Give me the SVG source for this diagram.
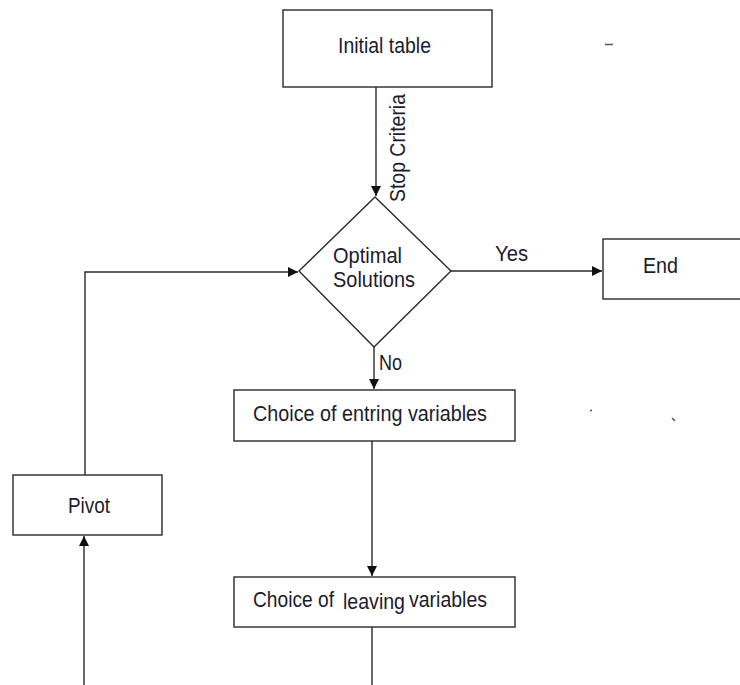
<svg xmlns="http://www.w3.org/2000/svg" width="740" height="685" viewBox="0 0 740 685">
<style>
  .box{fill:#fff;stroke:#2a2a2a;stroke-width:1.4}
  .ln{fill:none;stroke:#2a2a2a;stroke-width:1.4}
  .t{font-family:"Liberation Sans",Arial,sans-serif;font-size:21.5px;fill:#1c1c2c}
  .mk{stroke:#555;stroke-width:1.5}
</style>
<defs>
  <marker id="ah" viewBox="0 0 10 10" refX="10" refY="5" markerWidth="10" markerHeight="10" markerUnits="userSpaceOnUse" orient="auto">
    <path d="M0,0 L10,5 L0,10 z" fill="#111"/>
  </marker>
</defs>
<rect width="740" height="685" fill="#fff"/>

<g id="connectors">
  <path class="ln" d="M376,87 V196" marker-end="url(#ah)"/>
  <path class="ln" d="M451,271 H602" marker-end="url(#ah)"/>
  <path class="ln" d="M374,347 V389" marker-end="url(#ah)"/>
  <path class="ln" d="M372,441 V576" marker-end="url(#ah)"/>
  <path class="ln" d="M372,627 V686"/>
  <path class="ln" d="M84,686 V536" marker-end="url(#ah)"/>
  <path class="ln" d="M85,475 V272 H298" marker-end="url(#ah)"/>
  <text class="t" transform="translate(405,202) rotate(-90)" textLength="108" lengthAdjust="spacingAndGlyphs">Stop Criteria</text>
  <text class="t" x="495" y="261" textLength="33" lengthAdjust="spacingAndGlyphs">Yes</text>
  <text class="t" x="379" y="370" textLength="23" lengthAdjust="spacingAndGlyphs">No</text>
</g>

<g id="initial-table">
  <rect class="box" x="283" y="10" width="209" height="77"/>
  <text class="t" x="338" y="53" textLength="93" lengthAdjust="spacingAndGlyphs">Initial table</text>
</g>

<g id="optimal-solutions">
  <polygon class="box" points="375,197 451,271 374,347 299,271"/>
  <text class="t" x="333" y="263" textLength="69" lengthAdjust="spacingAndGlyphs">Optimal</text>
  <text class="t" x="333" y="287" textLength="82" lengthAdjust="spacingAndGlyphs">Solutions</text>
</g>

<g id="end">
  <rect class="box" x="603" y="239" width="145" height="60"/>
  <text class="t" x="643" y="273" textLength="35" lengthAdjust="spacingAndGlyphs">End</text>
</g>

<g id="choice-entering">
  <rect class="box" x="234" y="390" width="281" height="51"/>
  <text class="t" x="253" y="421" textLength="234" lengthAdjust="spacingAndGlyphs">Choice of entring variables</text>
</g>

<g id="choice-leaving">
  <rect class="box" x="234" y="577" width="281" height="50"/>
  <text class="t" x="253" y="607" textLength="81" lengthAdjust="spacingAndGlyphs">Choice of</text>
  <text class="t" x="343" y="609" textLength="62" lengthAdjust="spacingAndGlyphs">leaving</text>
  <text class="t" x="409" y="607" textLength="78" lengthAdjust="spacingAndGlyphs">variables</text>
</g>

<g id="pivot">
  <rect class="box" x="13" y="475" width="149" height="60"/>
  <text class="t" x="68" y="513" textLength="42" lengthAdjust="spacingAndGlyphs">Pivot</text>
</g>

<g id="marks">
  <line class="mk" x1="605" y1="44.5" x2="613" y2="44.5"/>
  <line class="mk" x1="590" y1="410.5" x2="592" y2="410.5"/>
  <line class="mk" x1="672" y1="418" x2="675" y2="421"/>
</g>
</svg>
